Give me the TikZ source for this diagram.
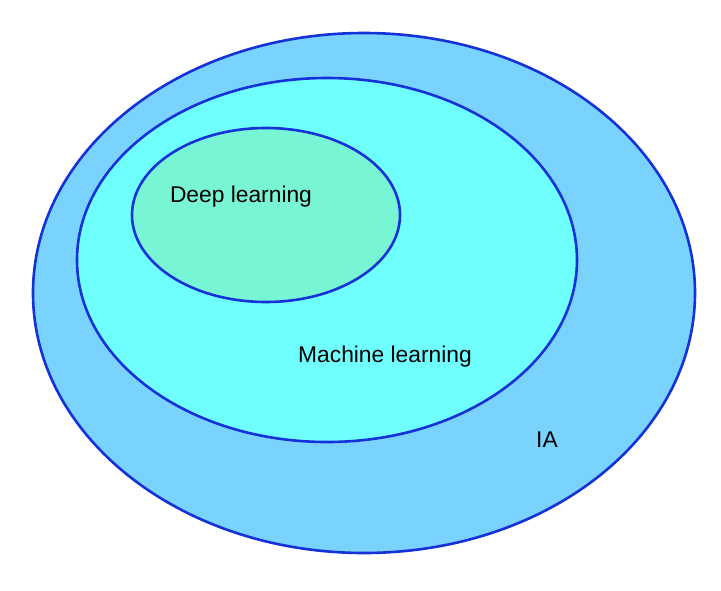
\documentclass[tikz,border=0pt]{standalone}
\usepackage{fontspec}
\setmainfont{Liberation Sans}
\begin{document}
\begin{tikzpicture}[x=1pt,y=-1pt]
  \tikzset{set/.style={draw={rgb,255:red,20;green,50;blue,215},line width=2.6pt},
    lbl/.style={font=\fontsize{22.8}{26}\selectfont}}
  \useasboundingbox (0,0) rectangle (721,590);
  \fill[white] (0,0) rectangle (721,590);

  \draw[set,fill={rgb,255:red,122;green,210;blue,255}] (364,293) ellipse (331 and 260);
  \draw[set,fill={rgb,255:red,112;green,255;blue,255}] (327,260) ellipse (250 and 182);
  \draw[set,fill={rgb,255:red,120;green,245;blue,212}] (266,215) ellipse (134 and 87);

  \node[lbl] (dl) at (241,197) {Deep learning};
  \node[lbl] (ml) at (385,357) {Machine learning};
  \node[lbl] (ia) at (547,440) {IA};
\end{tikzpicture}
\end{document}
